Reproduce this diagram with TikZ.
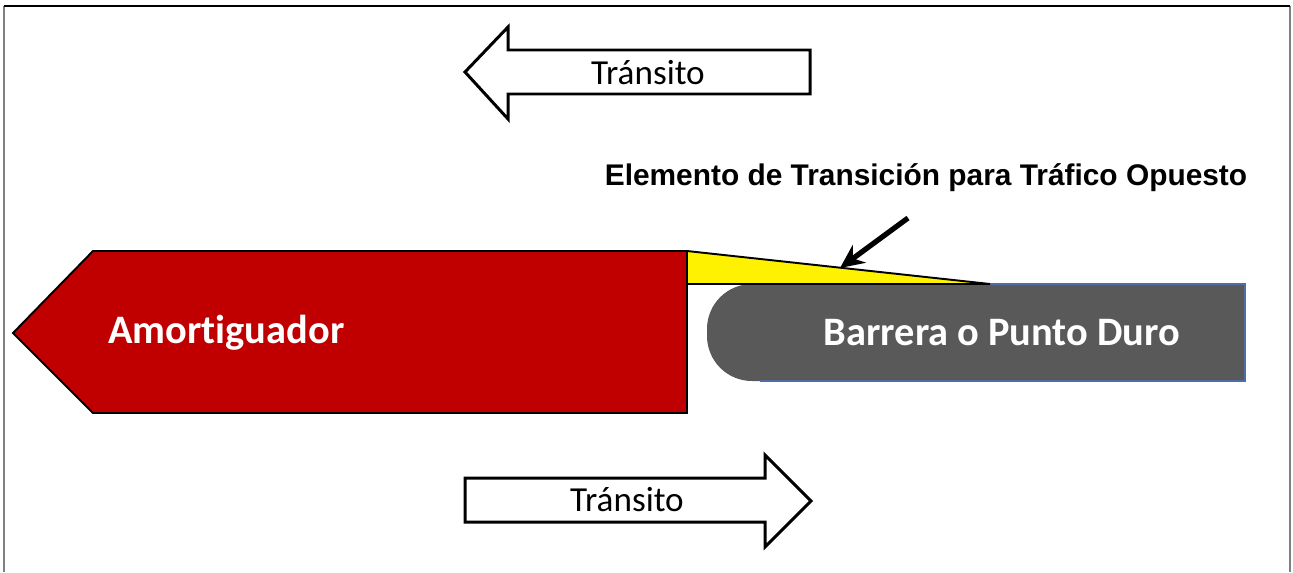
\documentclass[tikz,border=0pt]{standalone}
\usepackage{fontspec}
\setmainfont{Carlito}[Ligatures=NoCommon]
\newfontfamily\labelfont{Liberation Sans}
\usepackage{xcolor}
\usepackage{tikz}
\usetikzlibrary{arrows.meta, positioning}
\definecolor{amortred}{RGB}{192,0,0}
\definecolor{hardgray}{RGB}{89,89,89}
\definecolor{edgeblue}{RGB}{79,110,165}
\definecolor{framegray}{RGB}{128,128,128}
\tikzstyle{blockarrow} = [draw=black, fill=white, line width=1.7pt, line join=miter]
\tikzstyle{flowtext} = [font=\fontsize{20}{24}\selectfont, text=black, inner sep=0pt]
\tikzstyle{bodytext} = [font=\bfseries\fontsize{23}{27}\selectfont, text=white, inner sep=0pt]
\tikzstyle{note} = [font=\labelfont\bfseries\fontsize{17}{20}\selectfont, inner sep=0pt]
\tikzstyle{pointer} = [line width=3pt, -{Stealth[length=13.6pt, width=12.5pt]}]

\begin{document}
\begin{tikzpicture}[x=0.02cm, y=-0.02cm]
\useasboundingbox (0,0) rectangle (1293,572);
% frame
\draw [framegray, line width=1.1pt] (4,6) -- (4,572);
\draw [framegray, line width=1.1pt] (1290,6) -- (1290,572);
\draw [black, line width=0.85pt] (4,6) -- (1290,6);
% barrier / hard point
\fill [hardgray, rounded corners=0.9cm] (1245,284) -- (707,284) -- (707,381) -- (1245,381);
\fill [hardgray] (1000,284) rectangle (1245,381);
\draw [edgeblue, line width=0.6pt] (990,284) -- (1245,284) -- (1245,381) -- (760,381);
% transition element
\filldraw [fill=yellow, draw=black, line width=1.1pt, line join=miter] (687,251) -- (990,284) -- (687,284) -- cycle;
% crash cushion
\filldraw [fill=amortred, draw=black, line width=1.1pt, line join=miter] (13,333) -- (93,251) -- (687,251) -- (687,413) -- (93,413) -- cycle;
% traffic arrows
\draw [blockarrow] (465,72) -- (508,27) -- (508,50) -- (810,50) -- (810,94) -- (508,94) -- (508,119) -- cycle;
\draw [blockarrow] (465,478) -- (765,478) -- (765,455) -- (811,501) -- (765,547) -- (765,522) -- (465,522) -- cycle;
% texts
\node (tranup) [flowtext] at (648,73) {Tránsito};
\node (trandown) [flowtext] at (627,500) {Tránsito};
\node (amort) [bodytext, anchor=west] at (108,333) {Amortiguador};
\node (barrera) [bodytext] at (1002,333) {Barrera o Punto Duro};
\node (label) [note] at (926,178) {Elemento de Transición para Tráfico Opuesto};
% pointer to transition element
\coordinate (ptail) at (908,218);
\coordinate (ptip) at (840,268);
\draw [pointer] (ptail) -- (ptip);
\end{tikzpicture}
\end{document}
